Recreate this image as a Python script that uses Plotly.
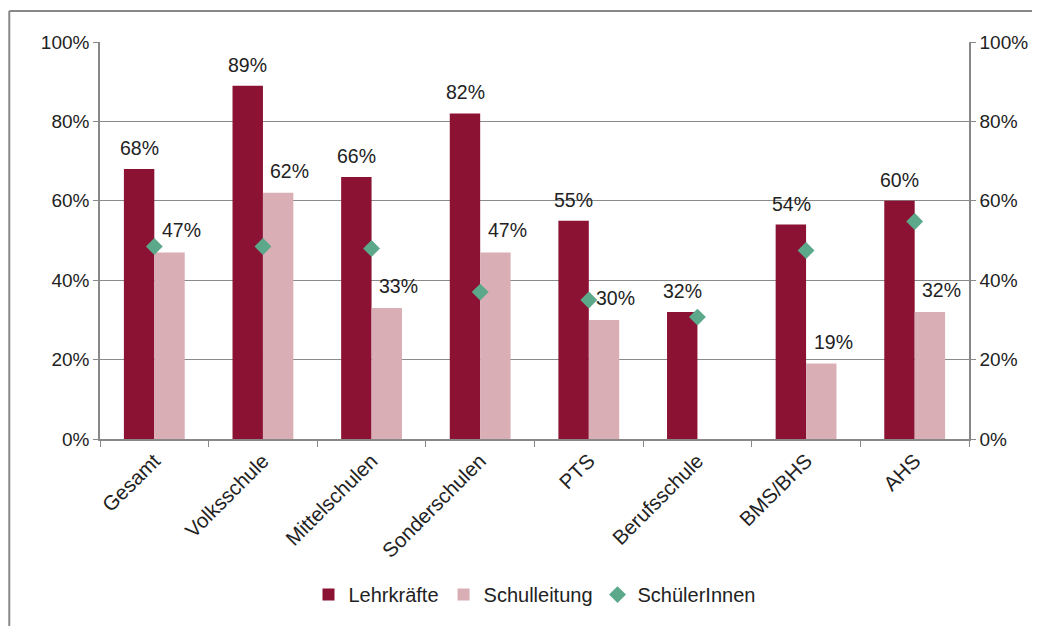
import plotly.graph_objects as go

categories = ["Gesamt", "Volksschule", "Mittelschulen", "Sonderschulen", "PTS",
              "Berufsschule", "BMS/BHS", "AHS"]
lehrkraefte = [68, 89, 66, 82, 55, 32, 54, 60]
schulleitung = [47, 62, 33, 47, 30, None, 19, 32]
schuelerinnen = [48.5, 48.5, 48, 37, 35, 30.7, 47.5, 54.8]
y_ticks = [0, 20, 40, 60, 80, 100]
y_ticklabels = [f"{v}%" for v in y_ticks]

FONT = "Liberation Sans, Arial, sans-serif"
C_LEHR = "#8C1233"
C_SL = "#D9AEB5"
C_SCH = "#5CA88A"

fig = go.Figure()
fig.add_trace(go.Bar(name="Lehrkräfte", x=categories, y=lehrkraefte,
                     marker_color=C_LEHR, marker_line_width=0))
fig.add_trace(go.Bar(name="Schulleitung", x=categories, y=schulleitung,
                     marker_color=C_SL, marker_line_width=0))
fig.add_trace(go.Scatter(name="SchülerInnen", x=categories, y=schuelerinnen,
                         mode="markers",
                         marker=dict(symbol="diamond", size=13, color=C_SCH,
                                     line=dict(width=0))))
# invisible trace to show right axis
fig.add_trace(go.Scatter(x=categories, y=[None]*len(categories), yaxis="y2",
                         showlegend=False, hoverinfo="skip"))

annotations = []
for c, v in zip(categories, lehrkraefte):
    annotations.append(dict(x=c, y=v, text=f"{v}%", showarrow=False,
                            xshift=-15, yshift=21, yanchor="middle",
                            font=dict(family=FONT, size=19.5, color="#222")))
for c, v in zip(categories, schulleitung):
    if v is None:
        continue
    annotations.append(dict(x=c, y=v, text=f"{v}%", showarrow=False,
                            xshift=27, yshift=22, yanchor="middle",
                            font=dict(family=FONT, size=19.5, color="#222")))

fig.update_layout(
    width=1032, height=618,
    margin=dict(l=92, r=68, t=34, b=185),
    paper_bgcolor="white", plot_bgcolor="white",
    barmode="group", bargap=0.44, bargroupgap=0,
    font=dict(family=FONT, size=19, color="#222"),
    showlegend=True,
    legend=dict(orientation="h", x=0.5, xanchor="center", y=-0.392,
                yanchor="middle", font=dict(family=FONT, size=20, color="#222"),
                itemwidth=30, tracegroupgap=0),
    xaxis=dict(type="category", tickangle=-45, showline=True, linecolor="#888",
               linewidth=1.5, ticks="outside", tickson="boundaries", ticklen=6,
               tickcolor="#888", showgrid=False,
               tickfont=dict(family=FONT, size=20.5, color="#222")),
    yaxis=dict(range=[0, 100], tickvals=y_ticks, ticktext=y_ticklabels,
               showline=True, linecolor="#888", linewidth=1.5,
               ticks="outside", ticklen=5, tickcolor="#888",
               showgrid=True, gridcolor="#8a8a8a", gridwidth=1.2,
               zeroline=False, tickfont=dict(family=FONT, size=19, color="#222")),
    yaxis2=dict(range=[0, 100], tickvals=y_ticks, ticktext=y_ticklabels,
                overlaying="y", side="right", showline=True, linecolor="#888",
                linewidth=1.5, ticks="outside", ticklen=5, tickcolor="#888",
                showgrid=False, zeroline=False,
                tickfont=dict(family=FONT, size=19, color="#222")),
    annotations=annotations,
    shapes=[
        dict(type="line", xref="paper", yref="paper",
             x0=-0.1044, x1=1.5, y0=1.0779, y1=1.0779,
             line=dict(color="#888", width=2), layer="below"),
        dict(type="line", xref="paper", yref="paper",
             x0=-0.1044, x1=-0.1044, y0=-0.6, y1=1.0779,
             line=dict(color="#888", width=2), layer="below"),
    ],
)

fig.write_html("out.html")
